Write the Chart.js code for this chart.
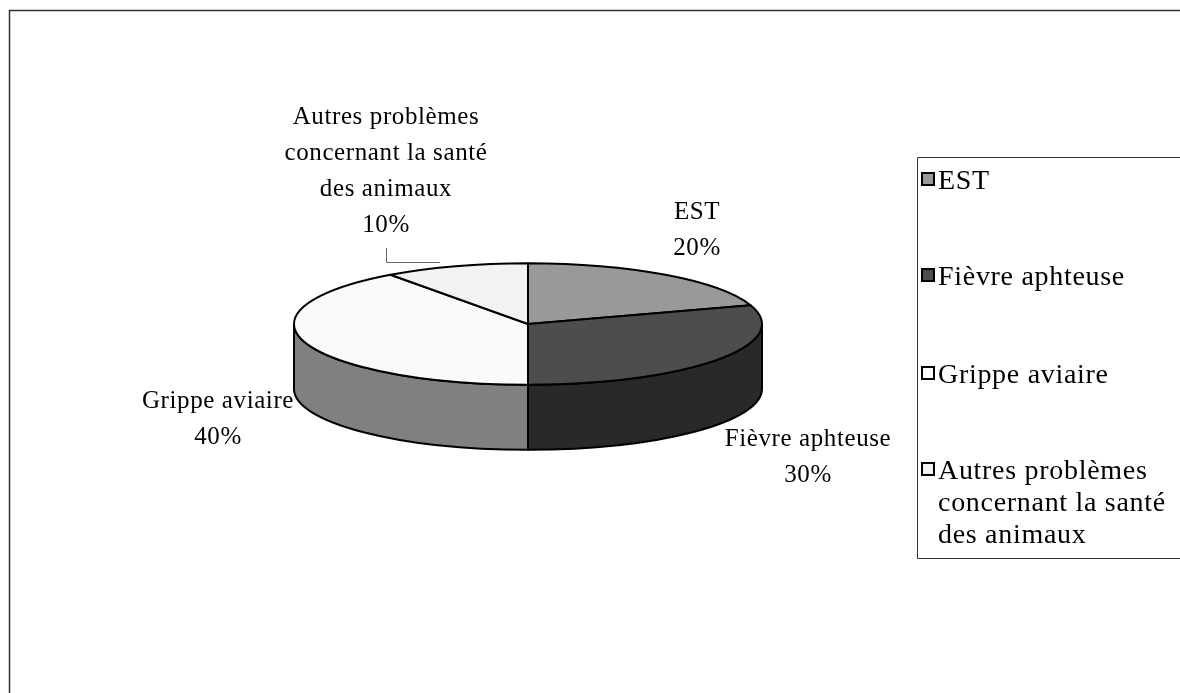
<!DOCTYPE html>
<html>
<head>
<meta charset="utf-8">
<script src="https://cdn.jsdelivr.net/npm/chart.js@4/dist/chart.umd.min.js"></script>
<style>
  html, body { margin: 0; padding: 0; background: #ffffff; }
  #wrap { position: relative; width: 1180px; height: 693px; }
</style>
</head>
<body>
<div id="wrap"><canvas id="c" width="1180" height="693"></canvas></div>
<script>
// Répartition des préoccupations en santé animale
const categories = ['EST', 'Fièvre aphteuse', 'Grippe aviaire', 'Autres problèmes concernant la santé des animaux'];
const shares = [20, 30, 40, 10];
const legendLines = [['EST'], ['Fièvre aphteuse'], ['Grippe aviaire'], ['Autres problèmes', 'concernant la santé', 'des animaux']];
const labelLines = [['EST'], ['Fièvre aphteuse'], ['Grippe aviaire'], ['Autres problèmes', 'concernant la santé', 'des animaux']];

// Fill colours: top face and side wall of each slice
const topColors = ['#999999', '#4d4d4d', '#fafafa', '#f2f2f2'];
const sideColors = ['#6e6e6e', '#292929', '#808080', '#b0b0b0'];

const FONT = '"Liberation Serif", "Times New Roman", serif';
const TILT = 0.26;     // vertical squash of the disc
const DEPTH = 65;      // thickness of the disc in px

// Label anchor (centre x, first baseline y) for each slice's data label
const labelAnchors = [[697, 219], [808, 446], [218, 408], [386, 124]];
const labelLineHeight = 36;

function ellPt(cx, cy, rx, ry, a) { return [cx + rx * Math.cos(a), cy + ry * Math.sin(a)]; }

const pie3d = {
  id: 'pie3d',
  beforeDatasetsDraw(chart) {
    const ctx = chart.ctx;
    const arcs = chart.getDatasetMeta(0).data;
    if (!arcs.length) return false;
    const cx = arcs[0].x, cy = arcs[0].y;
    const rx = arcs[0].outerRadius, ry = rx * TILT;
    ctx.save();
    ctx.lineJoin = 'round';
    ctx.strokeStyle = '#000000';
    ctx.lineWidth = 2;
    // side walls: only the front half (sin > 0) is visible
    arcs.forEach((arc, i) => {
      const s = arc.startAngle, e = arc.endAngle;
      const spans = [];
      for (const off of [-2 * Math.PI, 0, 2 * Math.PI]) {
        const a = Math.max(s + off, 0), b = Math.min(e + off, Math.PI);
        if (b > a) spans.push([a, b]);
      }
      spans.forEach(([a, b]) => {
        ctx.beginPath();
        ctx.ellipse(cx, cy, rx, ry, 0, a, b, false);
        const pb = ellPt(cx, cy, rx, ry, b);
        ctx.lineTo(pb[0], pb[1] + DEPTH);
        ctx.ellipse(cx, cy + DEPTH, rx, ry, 0, b, a, true);
        ctx.closePath();
        ctx.fillStyle = sideColors[i];
        ctx.fill();
        ctx.stroke();
      });
    });
    // top faces
    arcs.forEach((arc, i) => {
      ctx.beginPath();
      ctx.moveTo(cx, cy);
      ctx.ellipse(cx, cy, rx, ry, 0, arc.startAngle, arc.endAngle, false);
      ctx.closePath();
      ctx.fillStyle = topColors[i];
      ctx.fill();
      ctx.stroke();
    });
    ctx.restore();
    return false;
  },
  afterDraw(chart) {
    const ctx = chart.ctx;
    ctx.save();
    // outer frame
    ctx.strokeStyle = '#333333';
    ctx.lineWidth = 1.5;
    ctx.beginPath();
    ctx.moveTo(9.5, 700); ctx.lineTo(9.5, 10.5); ctx.lineTo(1190, 10.5);
    ctx.stroke();

    // data labels
    const total = shares.reduce((a, b) => a + b, 0);
    ctx.fillStyle = '#000000';
    ctx.textAlign = 'center';
    ctx.textBaseline = 'alphabetic';
    ctx.font = '25px ' + FONT;
    ctx.letterSpacing = '0.6px';
    labelLines.forEach((lines, i) => {
      const [x, y] = labelAnchors[i];
      const all = lines.concat([Math.round(shares[i] / total * 100) + '%']);
      all.forEach((t, k) => ctx.fillText(t, x, y + k * labelLineHeight));
    });

    // leader line for the small slice
    ctx.strokeStyle = '#6a6a6a';
    ctx.lineWidth = 1;
    ctx.beginPath();
    ctx.moveTo(386.5, 248); ctx.lineTo(386.5, 262.5); ctx.lineTo(440, 262.5);
    ctx.stroke();

    // legend
    ctx.strokeStyle = '#333333';
    ctx.lineWidth = 1;
    ctx.beginPath();
    ctx.moveTo(1190, 157.5); ctx.lineTo(917.5, 157.5); ctx.lineTo(917.5, 558.5); ctx.lineTo(1190, 558.5);
    ctx.stroke();
    ctx.textAlign = 'left';
    ctx.font = '28px ' + FONT;
    ctx.letterSpacing = '0.7px';
    const legendBase = [189, 285, 383, 479];
    const legendLH = 32;
    legendLines.forEach((lines, i) => {
      const y = legendBase[i];
      ctx.fillStyle = topColors[i];
      ctx.fillRect(922, y - 16, 12, 12);
      ctx.strokeStyle = '#000000';
      ctx.lineWidth = 2;
      ctx.strokeRect(922, y - 16, 12, 12);
      ctx.fillStyle = '#000000';
      lines.forEach((t, k) => ctx.fillText(t, 938, y + k * legendLH));
    });
    ctx.restore();
  }
};

new Chart(document.getElementById('c'), {
  type: 'pie',
  data: {
    labels: categories,
    datasets: [{ data: shares, backgroundColor: topColors, borderColor: '#000000', borderWidth: 2 }]
  },
  options: {
    responsive: false,
    animation: false,
    layout: { padding: { left: 293, right: 417, top: 89, bottom: 134 } },
    plugins: { legend: { display: false }, tooltip: { enabled: false } }
  },
  plugins: [pie3d]
});
</script>
</body>
</html>
